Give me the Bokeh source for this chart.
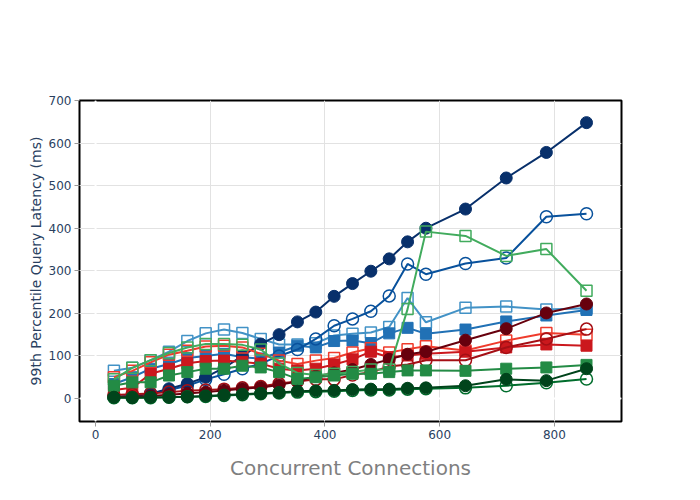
from bokeh.plotting import figure
from bokeh.models import Range1d, FixedTicker, Span
from bokeh.embed import file_html
from bokeh.resources import INLINE

# ---------------- data ----------------
connections = [32, 64, 96, 128, 160, 192, 224, 256, 288, 320, 352, 384, 416,
               448, 480, 512, 544, 576, 645, 716, 786, 856]

blue_filled_circle = [3, 5, 11, 23, 35, 50, 72, 100, 128, 150, 180, 203, 240,
                      270, 299, 328, 368, 400, 445, 518, 578, 648]
blue_open_circle = [4, 7, 12, 20, 30, 45, 57, 70, 82, 100, 115, 140, 171,
                    187, 205, 241, 316, 292, 317, 330, 427, 434]
blue_filled_square = [34, 50, 70, 81, 95, 100, 105, 97, 94, 108, 124, 120, 135,
                      136, 130, 153, 166, 152, 162, 181, 195, 208]
blue_open_square = [65, 72, 90, 110, 135, 153, 162, 154, 140, 127, 127, 130, 148,
                    152, 155, 168, 236, 179, 213, 216, 209, 212]

red_filled_circle = [3, 4, 6, 9, 12, 15, 19, 23, 26, 32, 40, 52, 60,
                     68, 80, 92, 104, 110, 137, 164, 201, 222]
red_open_circle = [8, 10, 12, 15, 18, 20, 22, 25, 28, 35, 40, 45, 45,
                   55, 62, 75, 80, 90, 90, 120, 140, 163]
red_filled_square = [20, 25, 58, 70, 83, 88, 89, 86, 82, 70, 66, 70, 80,
                     92, 110, 97, 101, 105, 110, 120, 127, 124]
red_open_square = [50, 65, 85, 103, 112, 122, 124, 120, 105, 89, 81, 89, 95,
                   108, 118, 108, 116, 123, 113, 136, 154, 150]

green_filled_circle = [3, 2, 3, 3, 4, 6, 8, 10, 12, 14, 17, 18, 19,
                       21, 22, 22, 24, 25, 30, 45, 42, 70]
green_open_circle = [2, 2, 2, 3, 4, 5, 7, 9, 11, 13, 15, 16, 17,
                     19, 20, 20, 22, 23, 25, 30, 37, 46]
green_filled_square = [30, 38, 38, 54, 62, 70, 70, 77, 73, 62, 46, 50, 54,
                       58, 58, 62, 66, 66, 65, 70, 73, 79]
green_open_square = [45, 72, 90, 107, 120, 128, 128, 126, 115, 82, 60, 55, 58,
                     62, 68, 68, 210, 392, 382, 335, 351, 253]

x_ticks = [0, 200, 400, 600, 800]
y_ticks = [0, 100, 200, 300, 400, 500, 600, 700]

# (values, colour, marker, filled) in drawing order
series = [
    (blue_open_square, "#4292c6", "square", False),
    (blue_filled_square, "#2171b5", "square", True),
    (blue_open_circle, "#08519c", "circle", False),
    (blue_filled_circle, "#08306b", "circle", True),
    (red_open_square, "#ef3b2c", "square", False),
    (red_filled_square, "#cb181d", "square", True),
    (red_open_circle, "#a50f15", "circle", False),
    (red_filled_circle, "#67000d", "circle", True),
    (green_open_square, "#41ab5d", "square", False),
    (green_filled_square, "#238b45", "square", True),
    (green_open_circle, "#006d2c", "circle", False),
    (green_filled_circle, "#00441b", "circle", True),
]

FONT = "DejaVu Sans"
TICK_COLOR = "#2a3f5f"

p = figure(width=684, height=484, output_backend="svg", toolbar_location=None,
           x_range=Range1d(-28, 917), y_range=Range1d(-54, 700),
           min_border_left=79, min_border_right=63,
           min_border_top=100, min_border_bottom=63)

p.background_fill_color = "white"
p.border_fill_color = "white"
p.outline_line_color = "black"
p.outline_line_width = 2

for ax in (p.xaxis, p.yaxis):
    ax.axis_line_color = None
    ax.major_tick_line_color = "#9a9a9a"
    ax.major_tick_in = 0
    ax.major_tick_out = 5
    ax.minor_tick_line_color = None
    ax.major_label_text_font = FONT
    ax.major_label_text_font_size = "12px"
    ax.major_label_text_color = TICK_COLOR
    ax.axis_label_text_font = FONT
    ax.axis_label_text_font_style = "normal"

p.xaxis.ticker = FixedTicker(ticks=x_ticks)
p.yaxis.ticker = FixedTicker(ticks=y_ticks)
p.xaxis.major_label_standoff = 3
p.yaxis.major_label_standoff = 3

p.xaxis.axis_label = "Concurrent Connections"
p.xaxis.axis_label_text_font_size = "20px"
p.xaxis.axis_label_text_color = "#7f7f7f"
p.xaxis.axis_label_standoff = 14

p.yaxis.axis_label = "99th Percentile Query Latency (ms)"
p.yaxis.axis_label_text_font_size = "14px"
p.yaxis.axis_label_text_color = TICK_COLOR
p.yaxis.axis_label_standoff = 2

p.xgrid.grid_line_color = "#e2e2e2"
p.ygrid.grid_line_color = "#e2e2e2"
p.xgrid.grid_line_width = 1
p.ygrid.grid_line_width = 1

p.add_layout(Span(location=0, dimension="height", line_color="white",
                  line_width=2, level="underlay"))
p.add_layout(Span(location=0, dimension="width", line_color="white",
                  line_width=2, level="underlay"))

for vals, color, marker, filled in series:
    p.line(connections, vals, line_color=color, line_width=2)
    if filled:
        p.scatter(connections, vals, marker=marker, size=12 if marker == "circle" else 11,
                  fill_color=color, line_color=color, line_width=1)
    else:
        p.scatter(connections, vals, marker=marker, size=12 if marker == "circle" else 11,
                  fill_color=None, line_color=color, line_width=1.5)

open("out.html", "w").write(file_html(p, INLINE))
